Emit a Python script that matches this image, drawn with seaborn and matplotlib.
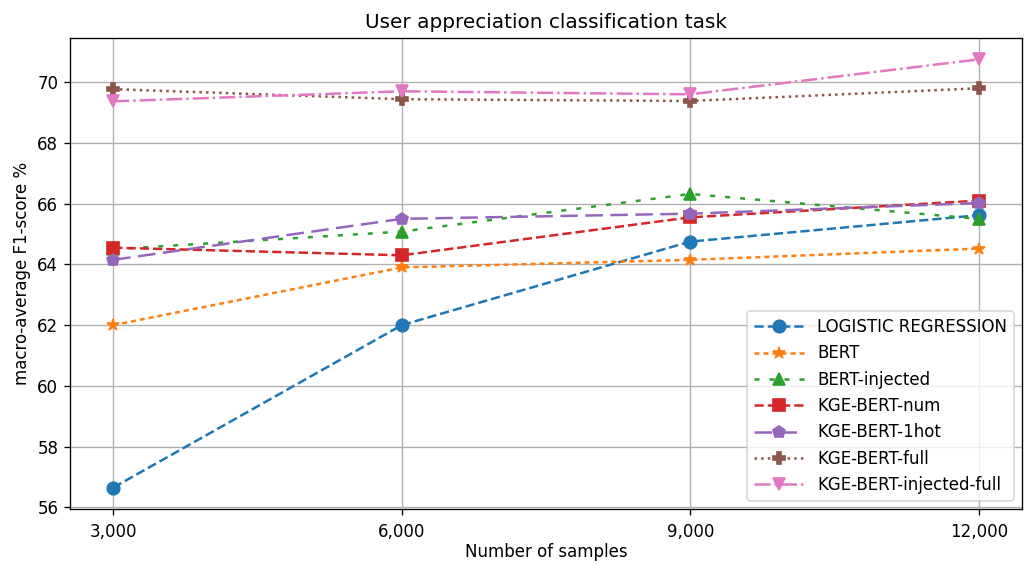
import pandas as pd
import seaborn as sns
import matplotlib.pyplot as plt
from matplotlib.ticker import FuncFormatter

samples = [3000, 6000, 9000, 12000]

logistic_regression = [56.65, 62.0, 64.75, 65.62]
bert = [62.0, 63.9, 64.15, 64.52]
bert_injected = [64.5, 65.08, 66.32, 65.5]
kge_bert_num = [64.55, 64.3, 65.55, 66.1]
kge_bert_1hot = [64.15, 65.5, 65.67, 66.02]
kge_bert_full = [69.77, 69.44, 69.38, 69.8]
kge_bert_injected_full = [69.37, 69.7, 69.6, 70.75]

series_names = ["LOGISTIC REGRESSION", "BERT", "BERT-injected", "KGE-BERT-num",
                "KGE-BERT-1hot", "KGE-BERT-full", "KGE-BERT-injected-full"]
series_values = [logistic_regression, bert, bert_injected, kge_bert_num,
                 kge_bert_1hot, kge_bert_full, kge_bert_injected_full]

markers = ["o", "*", "^", "s", "p", "P", "v"]
linestyles = ["--", (0, (2, 1.6)), (0, (2, 4)), "--", (0, (7, 3)), ":", "-."]

fig = plt.figure(figsize=(1028 / 120, 564 / 120), dpi=120)
ax = plt.gca()
palette = sns.color_palette("tab10")

for i, (name, vals) in enumerate(zip(series_names, series_values)):
    df = pd.DataFrame({"samples": samples, "f1": vals})
    sns.lineplot(data=df, x="samples", y="f1", ax=ax, label=name,
                 color=palette[i], marker=markers[i], markersize=7.5,
                 markeredgecolor=palette[i], markeredgewidth=1,
                 linestyle=linestyles[i], linewidth=1.5)

ax.set_xticks(samples)
ax.xaxis.set_major_formatter(FuncFormatter(lambda v, p: f"{int(v):,}"))
ax.tick_params(axis="x", pad=5)
ax.grid(True, color="#b0b0b0", linewidth=0.8)
ax.set_title("User appreciation classification task")
ax.set_xlabel("Number of samples", labelpad=1)
ax.set_ylabel("macro-average F1-score %")
ax.legend(loc="lower right", handlelength=3)

fig.subplots_adjust(left=70 / 1028, right=1022 / 1028, top=1 - 38 / 564, bottom=1 - 509 / 564)
plt.savefig("out.png", dpi=120)
